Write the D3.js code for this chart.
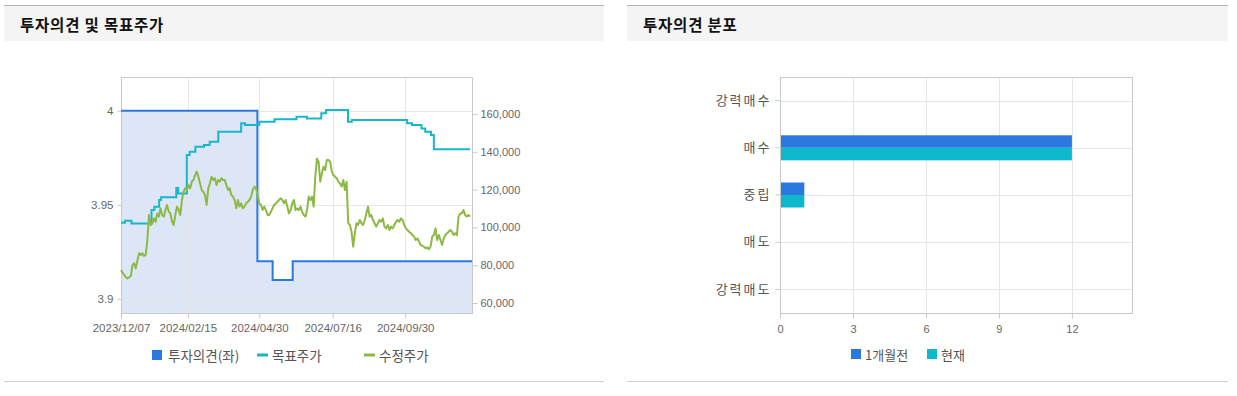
<!DOCTYPE html>
<html><head><meta charset="utf-8">
<script src="https://cdn.jsdelivr.net/npm/d3@7"></script>
<style>
body{margin:0;background:#fff;}
svg{display:block;}
text{font-family:"Liberation Sans","Noto Sans CJK KR",sans-serif;}
</style></head><body>
<svg id="c" width="1237" height="396"></svg>
<script>
// ---------------- data ----------------
const panelTitles = ["투자의견 및 목표주가", "투자의견 분포"];
const priceStart = "2023-12-07", priceEnd = "2024-12-07";
const prices = [
77500,76000,74800,73600,73000,73600,74300,80100,81000,78300,82700,86300,85400,86300,84900,85400,93300,106600,101300,102200,
104800,103000,107400,105700,110100,106600,105700,109200,111900,108300,107400,103000,101300,106600,111000,109200,106600,114500,118900,120700,
119800,122400,120700,124200,125100,127700,129500,126800,123300,119800,118900,
117100,111900,120700,123300,126800,125100,126000,122400,125100,124200,126000,125100,125100,122400,119800,120700,117100,116300,114500,110100,
114500,111000,112700,110100,111000,112700,113600,114500,116300,119800,121600,120700,117100,112700,111900,109200,111000,109200,106600,106600,
108300,110100,111900,112700,113600,114500,115400,114500,112700,114500,111000,107400,109200,
112700,114500,109200,110100,109200,111000,108300,106600,105700,109200,116300,114500,116300,111000,126800,136500,134800,124200,128600,132100,
130400,135700,135700,134800,129500,127700,126800,126000,124200,123300,121600,125100,119800,124200,102200,101300,97700,89800,96900,102200,
101300,103900,102200,101300,103900,107400,111000,105700,106600,103900,102200,100400,102200,
103900,103000,104800,100400,99500,101300,98600,100400,99500,101300,103000,103900,103000,104800,103900,101300,99500,98600,97700,96900,
96000,95100,93300,94200,92500,90700,90200,89800,88900,89500,88400,89800,95100,96000,99500,93300,96000,93300,90700,94200,
96000,96900,97700,98600,97700,96000,96900,96000,105700,107400,107400,109200,106600,105700,106600,105700
];
const targetDates = ["2023-12-07","2023-12-11","2023-12-18","2024-01-08","2024-01-11","2024-01-16","2024-01-18","2024-02-03","2024-02-05",
  "2024-02-14","2024-02-17","2024-02-23","2024-03-03","2024-03-09","2024-03-18","2024-04-11","2024-04-15","2024-04-30","2024-05-16",
  "2024-06-08","2024-06-19","2024-07-04","2024-07-09","2024-08-01","2024-08-05","2024-10-02","2024-10-07","2024-10-17","2024-10-21",
  "2024-10-27","2024-10-30","2024-12-07"];
const targetValues = [102500,103500,102100,109200,110900,114500,115900,120800,118000,
  138300,140000,142700,143600,145300,150600,155100,154200,155900,157200,
  158600,157700,160400,162100,155900,156800,155100,154200,152400,150600,
  148900,141300,141300];
const opinionDates = ["2023-12-07","2024-04-28","2024-05-14","2024-06-04","2024-12-09"];
const opinionValues = [4, 3.92, 3.91, 3.92, 3.92];
const xTickDates = ["2023-12-07","2024-02-15","2024-04-30","2024-07-16","2024-09-30"];
const xDomain = ["2023-12-07","2024-12-09"];
const leftTicks = [3.9, 3.95, 4];
const rightTicks = [60000, 80000, 100000, 120000, 140000, 160000];
const lineLegend = ["투자의견(좌)", "목표주가", "수정주가"];

const categories = ["강력매수", "매수", "중립", "매도", "강력매도"];
const barSeries = ["1개월전", "현재"];
const prevCounts = [0, 12, 1, 0, 0];
const currCounts = [0, 12, 1, 0, 0];
const barTicks = [0, 3, 6, 9, 12];

// ---------------- styles ----------------
const C = {opinion:"#2b78df", opinionFill:"#dce6f7", target:"#18b6c9", price:"#8cb945",
           prev:"#2b78df", curr:"#0cb8c9", grid:"#e6e6e6", border:"#c9c9c9", text:"#666"};
const svg = d3.select("#c");
const parse = d3.timeParse("%Y-%m-%d");
const fmtTick = d3.timeFormat("%Y/%m/%d");

// panels
const panels = [{x0:4, x1:604}, {x0:627, x1:1228}];
panels.forEach((p, i) => {
  svg.append("rect").attr("x", p.x0).attr("y", 6).attr("width", p.x1 - p.x0).attr("height", 35).attr("fill", "#f4f4f4");
  svg.append("line").attr("x1", p.x0).attr("x2", p.x1).attr("y1", 5.5).attr("y2", 5.5).attr("stroke", "#b3b3b3");
  svg.append("line").attr("x1", p.x0).attr("x2", p.x1).attr("y1", 381.5).attr("y2", 381.5).attr("stroke", "#cfcfcf");
  svg.append("text").attr("x", p.x0 + 16).attr("y", 31).text(panelTitles[i])
    .attr("font-size", "15.5px").attr("font-weight", "bold").attr("fill", "#111")
    .style("letter-spacing", "0.8px")
    .style("font-family", "'Noto Sans CJK KR',sans-serif");
});

// ---------------- left chart ----------------
const L = {l:121, r:472, t:77, b:313};
const x = d3.scaleTime().domain(xDomain.map(parse)).range([L.l, L.r]);
const yL = d3.scaleLinear().domain([3.8925, 4.018]).range([L.b, L.t]);
const yR = d3.scaleLinear().domain([54700, 179600]).range([L.b, L.t]);

const opinion = opinionDates.map((d, i) => ({d: parse(d), v: opinionValues[i]}));
const target = targetDates.map((d, i) => ({d: parse(d), v: targetValues[i]}));
const s = parse(priceStart), e = parse(priceEnd);
const price = prices.map((v, i) => ({d: new Date(+s + (e - s) * i / (prices.length - 1)), v}));

const gL = svg.append("g");
gL.append("path").datum(opinion)
  .attr("d", d3.area().curve(d3.curveStepAfter).x(d => x(d.d)).y0(L.b).y1(d => yL(d.v)))
  .attr("fill", C.opinionFill);
// grid
gL.selectAll(".vg").data(xTickDates.slice(1)).join("line")
  .attr("x1", d => Math.round(x(parse(d))) + 0.5).attr("x2", d => Math.round(x(parse(d))) + 0.5)
  .attr("y1", L.t).attr("y2", L.b).attr("stroke", C.grid).attr("stroke-opacity", 0.9);
gL.selectAll(".hg").data(leftTicks).join("line")
  .attr("x1", L.l).attr("x2", L.r).attr("y1", d => Math.round(yL(d)) + 0.5).attr("y2", d => Math.round(yL(d)) + 0.5)
  .attr("stroke", C.grid).attr("stroke-opacity", 0.9);
gL.append("rect").attr("x", L.l + 0.5).attr("y", L.t + 0.5).attr("width", L.r - L.l).attr("height", L.b - L.t)
  .attr("fill", "none").attr("stroke", C.border);

// axes
const axB = gL.append("g").attr("transform", `translate(0,${L.b + 0.5})`)
  .call(d3.axisBottom(x).tickValues(xTickDates.map(parse)).tickFormat(fmtTick).tickSize(5).tickSizeOuter(0));
const axLft = gL.append("g").attr("transform", `translate(${L.l + 0.5},0)`)
  .call(d3.axisLeft(yL).tickValues(leftTicks).tickFormat(d => d3.format("")(d)).tickSize(4).tickSizeOuter(0));
const axRgt = gL.append("g").attr("transform", `translate(${L.r + 0.5},0)`)
  .call(d3.axisRight(yR).tickValues(rightTicks).tickFormat(d3.format(",")).tickSize(5).tickSizeOuter(0));
[axB, axLft, axRgt].forEach(a => {
  a.select(".domain").remove();
  a.selectAll(".tick line").attr("stroke", C.border);
  a.selectAll("text").attr("fill", C.text).attr("font-size", "11px").style("font-family", "'Liberation Sans',sans-serif");
});
axB.selectAll("text").attr("font-size", "11.5px").attr("dy", "0.95em");
axLft.selectAll("text").attr("font-size", "11.5px").attr("x", -8);
axRgt.selectAll("text").attr("x", 8);

// lines
gL.append("path").datum(opinion)
  .attr("d", d3.line().curve(d3.curveStepAfter).x(d => x(d.d)).y(d => yL(d.v)))
  .attr("fill", "none").attr("stroke", C.opinion).attr("stroke-width", 2);
gL.append("path").datum(target)
  .attr("d", d3.line().curve(d3.curveStepAfter).x(d => x(d.d)).y(d => yR(d.v)))
  .attr("fill", "none").attr("stroke", C.target).attr("stroke-width", 2);
gL.append("path").datum(price)
  .attr("d", d3.line().x(d => x(d.d)).y(d => yR(d.v)))
  .attr("fill", "none").attr("stroke", C.price).attr("stroke-width", 2).attr("stroke-linejoin", "round");

// legend left
const lg = gL.append("g").attr("font-size", "13.5px").attr("fill", "#555");
const lx = [152, 257, 364];
lg.append("rect").attr("x", lx[0]).attr("y", 350).attr("width", 10).attr("height", 10).attr("fill", C.opinion);
lg.append("line").attr("x1", lx[1]).attr("x2", lx[1] + 11).attr("y1", 355).attr("y2", 355).attr("stroke", C.target).attr("stroke-width", 3);
lg.append("line").attr("x1", lx[2]).attr("x2", lx[2] + 11).attr("y1", 355).attr("y2", 355).attr("stroke", C.price).attr("stroke-width", 3);
lineLegend.forEach((t, i) => {
  lg.append("text").attr("x", lx[i] + (i === 0 ? 16 : 15)).attr("y", 360.5).text(t).attr("fill", "#555")
    .style("font-family", "'Noto Sans CJK KR',sans-serif");
});

// ---------------- right chart ----------------
const R = {l:780, r:1132, t:77, b:313};
const xb = d3.scaleLinear().domain([0, 14.47]).range([R.l, R.r]);
const yb = d3.scaleBand().domain(categories).range([R.t, R.b]).paddingInner(0.47).paddingOuter(0.235);
const ys = d3.scaleBand().domain(barSeries).range([0, yb.bandwidth()]);
const gR = svg.append("g");
gR.selectAll(".vg").data(barTicks.slice(1)).join("line")
  .attr("x1", d => Math.round(xb(d)) + 0.5).attr("x2", d => Math.round(xb(d)) + 0.5)
  .attr("y1", R.t).attr("y2", R.b).attr("stroke", C.grid);
gR.selectAll(".hg").data(categories).join("line")
  .attr("x1", R.l).attr("x2", R.r)
  .attr("y1", d => Math.round(yb(d) + yb.bandwidth() / 2) + 0.5).attr("y2", d => Math.round(yb(d) + yb.bandwidth() / 2) + 0.5)
  .attr("stroke", C.grid);
gR.append("rect").attr("x", R.l + 0.5).attr("y", R.t + 0.5).attr("width", R.r - R.l).attr("height", R.b - R.t)
  .attr("fill", "none").attr("stroke", C.border);

const barData = categories.flatMap((c, i) => [
  {c, s: barSeries[0], v: prevCounts[i], col: C.prev},
  {c, s: barSeries[1], v: currCounts[i], col: C.curr}]);
gR.selectAll(".bar").data(barData.filter(d => d.v > 0)).join("rect")
  .attr("x", xb(0) + 1).attr("y", d => yb(d.c) + ys(d.s))
  .attr("width", d => xb(d.v) - xb(0) - 1).attr("height", ys.bandwidth()).attr("fill", d => d.col);

const axBb = gR.append("g").attr("transform", `translate(0,${R.b + 0.5})`)
  .call(d3.axisBottom(xb).tickValues(barTicks).tickFormat(d3.format("d")).tickSize(5).tickSizeOuter(0));
const axLb = gR.append("g").attr("transform", `translate(${R.l + 0.5},0)`)
  .call(d3.axisLeft(yb).tickSize(5).tickSizeOuter(0));
[axBb, axLb].forEach(a => {
  a.select(".domain").remove();
  a.selectAll(".tick line").attr("stroke", C.border);
});
axBb.selectAll("text").attr("fill", C.text).attr("font-size", "11px").attr("dy", "1.05em")
  .style("font-family", "'Liberation Sans',sans-serif");
axLb.selectAll("text").attr("fill", "#555").attr("font-size", "13px").attr("x", -9)
  .style("letter-spacing", "2px").style("font-family", "'Noto Sans CJK KR',sans-serif");

// legend right
const rg = gR.append("g");
const rx = [851, 927];
barSeries.forEach((t, i) => {
  rg.append("rect").attr("x", rx[i]).attr("y", 349).attr("width", 10).attr("height", 10).attr("fill", i ? C.curr : C.prev);
  rg.append("text").attr("x", rx[i] + 14).attr("y", 359.5).text(t).attr("fill", "#555").attr("font-size", "13px")
    .style("font-family", "'Noto Sans CJK KR',sans-serif");
});
</script>
</body></html>
